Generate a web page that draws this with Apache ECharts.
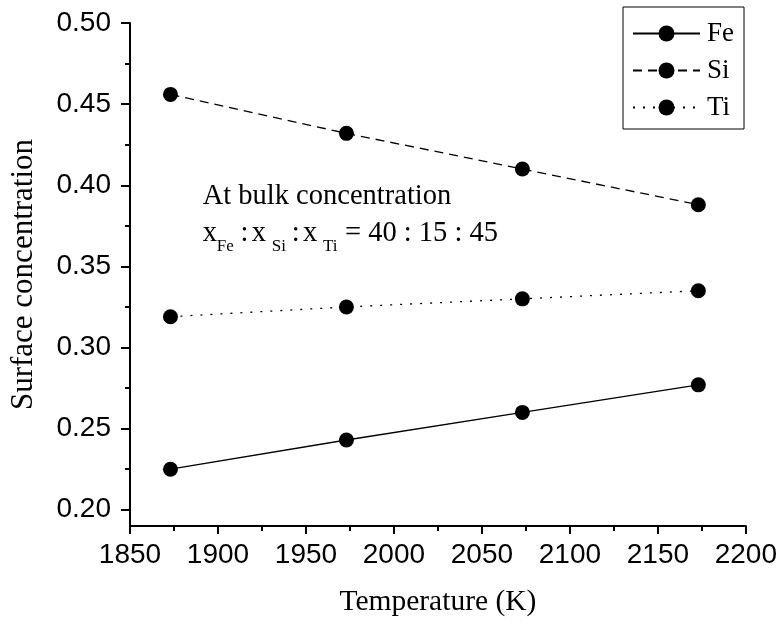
<!DOCTYPE html>
<html>
<head>
<meta charset="utf-8">
<script src="https://cdn.jsdelivr.net/npm/echarts@6/dist/echarts.min.js"></script>
<style>
  html, body { margin: 0; padding: 0; background: #fff; }
  #chart { width: 780px; height: 622px; }
</style>
</head>
<body>
<div id="chart"></div>
<script>
// Temperatures (K) and surface concentrations of each element
const temperatures = [1873, 1973, 2073, 2173];
const feValues = [0.225, 0.243, 0.260, 0.277];
const siValues = [0.456, 0.432, 0.410, 0.388];
const tiValues = [0.319, 0.325, 0.330, 0.335];

const yMajorTicks = [0.20, 0.25, 0.30, 0.35, 0.40, 0.45, 0.50];
const yMinorTicks = [0.225, 0.275, 0.325, 0.375, 0.425, 0.475];

const SERIF = '"Liberation Serif", "Times New Roman", serif';
const SANS = '"Liberation Sans", Arial, sans-serif';

function pairs(vals) {
  return temperatures.map((t, i) => [t, vals[i]]);
}

function makeSeries(name, vals, lineType) {
  return {
    name: name,
    type: 'line',
    data: pairs(vals),
    symbol: 'circle',
    symbolSize: 15,
    itemStyle: { color: '#000' },
    lineStyle: { color: '#000', width: 1.3, type: lineType },
    animation: false
  };
}

const chart = echarts.init(document.getElementById('chart'), null, { renderer: 'canvas' });

// Annotation text: bulk composition with subscripts
const mainFont = '28.5px ' + SERIF;
const subFont = '17px ' + SERIF;
function txt(x, y, s, font) {
  return { type: 'text', x: x, y: y, style: { text: s, font: font, fill: '#000', textAlign: 'left', textVerticalAlign: 'middle' } };
}

const option = {
  backgroundColor: '#fff',
  animation: false,
  grid: { left: 128, top: 23, right: 33, bottom: 96, containLabel: false },
  legend: {
    orient: 'vertical',
    left: 623,
    top: 7,
    padding: [13, 10, 8, 9],
    itemWidth: 67,
    itemHeight: 20,
    itemGap: 10,
    borderColor: '#000',
    borderWidth: 1,
    borderRadius: 0,
    textStyle: { fontFamily: SERIF, fontSize: 27, color: '#000', padding: [0, 0, 0, 2] },
    data: ['Fe', 'Si', 'Ti']
  },
  xAxis: {
    type: 'value',
    min: 1850,
    max: 2200,
    interval: 50,
    name: 'Temperature (K)',
    nameLocation: 'middle',
    nameGap: 61,
    nameTextStyle: { fontFamily: SERIF, fontSize: 29.5, color: '#000' },
    axisLine: { show: true, lineStyle: { color: '#000', width: 2 } },
    axisTick: { show: true, inside: false, length: 8, lineStyle: { color: '#000', width: 2 } },
    minorTick: { show: true, splitNumber: 2, length: 5, lineStyle: { color: '#000', width: 2 } },
    splitLine: { show: false },
    axisLabel: { fontFamily: SANS, fontSize: 28, color: '#000', margin: 15, formatter: v => String(v) }
  },
  yAxis: [
    {
      type: 'value',
      min: 0.19,
      max: 0.50,
      name: 'Surface concentration',
      nameLocation: 'middle',
      nameGap: 91,
      nameTextStyle: { fontFamily: SERIF, fontSize: 31, color: '#000' },
      axisLine: { show: true, lineStyle: { color: '#000', width: 2 } },
      axisTick: { show: true, inside: false, length: 9, customValues: yMajorTicks, lineStyle: { color: '#000', width: 2 } },
      splitLine: { show: false },
      axisLabel: {
        fontFamily: SANS, fontSize: 28, color: '#000', margin: 19,
        customValues: yMajorTicks,
        formatter: v => v.toFixed(2)
      }
    },
    {
      // minor ticks between labelled values
      type: 'value',
      min: 0.19,
      max: 0.50,
      position: 'left',
      axisLine: { show: false },
      axisTick: { show: true, inside: false, length: 5, customValues: yMinorTicks, lineStyle: { color: '#000', width: 2 } },
      axisLabel: { show: false },
      splitLine: { show: false }
    }
  ],
  graphic: [
    txt(202.7, 197, 'At bulk concentration', mainFont),
    txt(202.7, 234, 'x', mainFont),
    txt(216.7, 247, 'Fe', subFont),
    txt(240.5, 234, ':', mainFont),
    txt(251.7, 234, 'x', mainFont),
    txt(271.7, 247, 'Si', subFont),
    txt(291.7, 234, ':', mainFont),
    txt(303, 234, 'x', mainFont),
    txt(323, 247, 'Ti', subFont),
    txt(345, 234, '= 40 : 15 : 45', mainFont)
  ],
  series: [
    makeSeries('Fe', feValues, 'solid'),
    makeSeries('Si', siValues, [9, 6]),
    makeSeries('Ti', tiValues, [2, 8])
  ]
};

chart.setOption(option);
</script>
</body>
</html>
